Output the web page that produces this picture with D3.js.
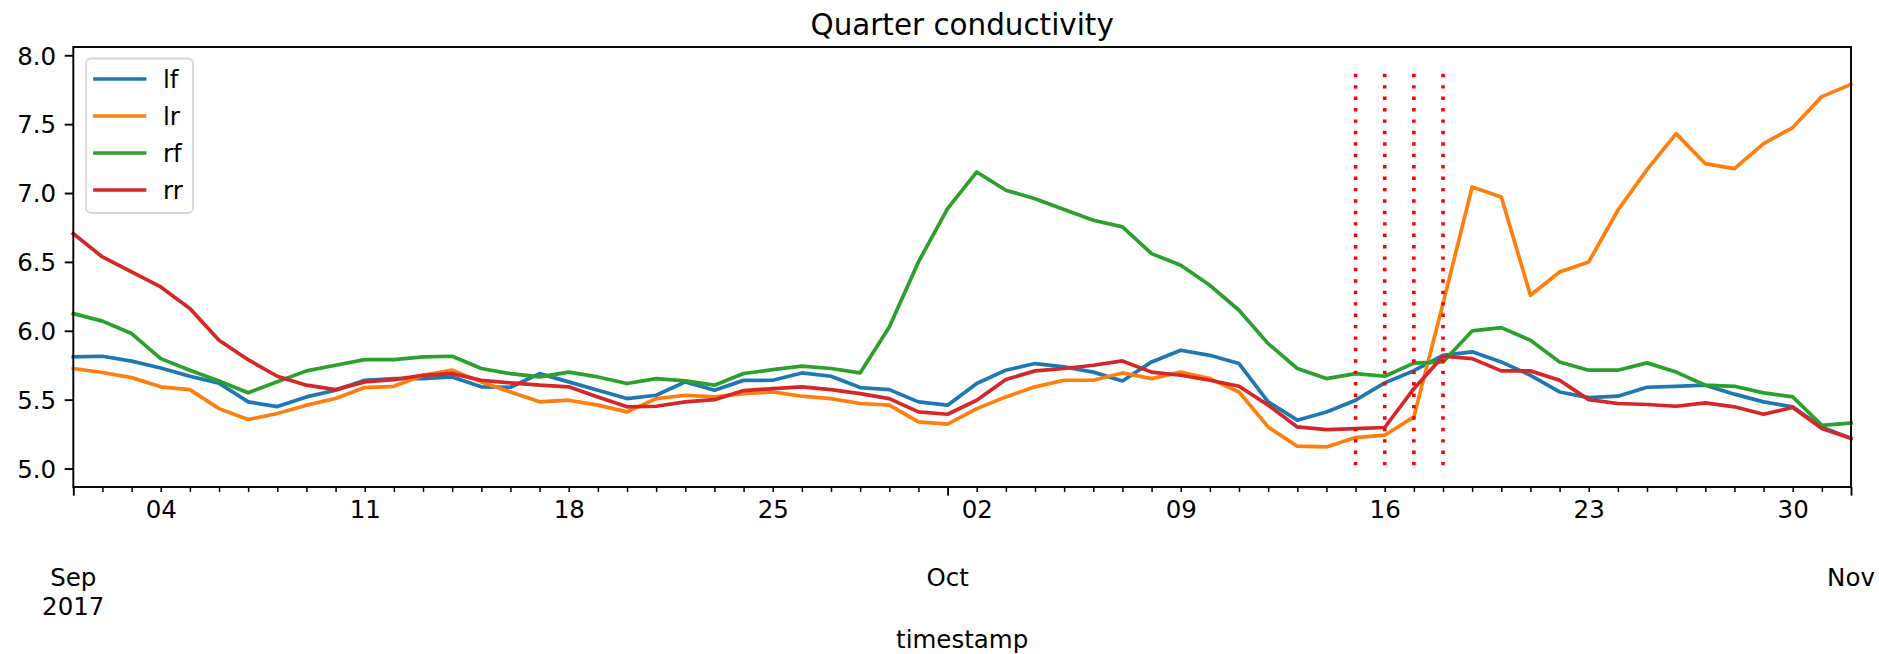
<!DOCTYPE html>
<html>
<head>
<meta charset="utf-8">
<script src="https://cdn.jsdelivr.net/npm/d3@7"></script>
<style>
  html, body { margin: 0; padding: 0; background: #fff; }
  svg { display: block; font-family: "DejaVu Sans", sans-serif; }
</style>
</head>
<body>
<svg id="chart" width="1879" height="654"></svg>
<script>
// ---- data ----
const startDate = "2017-09-01";
const endDate = "2017-11-01";
const seriesNames = ["lf", "lr", "rf", "rr"];
const seriesColors = ["#1f77b4", "#ff7f0e", "#2ca02c", "#d62728"];

const lf = [5.81, 5.815, 5.78, 5.73, 5.67, 5.62, 5.484, 5.45, 5.52, 5.568,
  5.641, 5.653, 5.653, 5.665, 5.593, 5.59, 5.689, 5.629, 5.568, 5.508,
  5.532, 5.629, 5.568, 5.64, 5.641, 5.694, 5.67, 5.588, 5.573, 5.484,
  5.46, 5.617, 5.714, 5.762, 5.738, 5.70, 5.636, 5.774, 5.859, 5.822,
  5.762, 5.484, 5.351, 5.411, 5.496, 5.622, 5.71, 5.822, 5.847, 5.774,
  5.677, 5.556, 5.515, 5.525, 5.59, 5.597, 5.605, 5.54, 5.484, 5.448,
  5.30, 5.22];
const lr = [5.726, 5.697, 5.66, 5.593, 5.573, 5.435, 5.356, 5.40, 5.46, 5.508,
  5.588, 5.597, 5.677, 5.714, 5.629, 5.556, 5.484, 5.496, 5.46, 5.411,
  5.508, 5.532, 5.52, 5.544, 5.556, 5.525, 5.508, 5.472, 5.46, 5.339,
  5.322, 5.435, 5.52, 5.593, 5.641, 5.641, 5.694, 5.653, 5.70, 5.653,
  5.556, 5.302, 5.162, 5.157, 5.225, 5.242, 5.375, 6.197, 7.044, 6.971,
  6.258, 6.427, 6.50, 6.875, 7.17, 7.431, 7.213, 7.177, 7.358, 7.475,
  7.70, 7.789];
const rf = [6.125, 6.07, 5.98, 5.798, 5.714, 5.636, 5.55, 5.63, 5.709, 5.75,
  5.791, 5.791, 5.81, 5.815, 5.726, 5.689, 5.665, 5.70, 5.665, 5.617,
  5.653, 5.636, 5.605, 5.69, 5.718, 5.743, 5.726, 5.694, 6.028, 6.50,
  6.887, 7.153, 7.02, 6.959, 6.88, 6.802, 6.754, 6.56, 6.476, 6.33,
  6.149, 5.907, 5.726, 5.653, 5.689, 5.67, 5.765, 5.774, 5.999, 6.023,
  5.931, 5.774, 5.714, 5.714, 5.767, 5.70, 5.605, 5.597, 5.549, 5.52,
  5.314, 5.331];
const rr = [6.705, 6.536, 6.427, 6.318, 6.161, 5.931, 5.79, 5.67, 5.605, 5.573,
  5.629, 5.646, 5.677, 5.689, 5.641, 5.622, 5.605, 5.593, 5.52, 5.448,
  5.452, 5.484, 5.50, 5.566, 5.58, 5.593, 5.573, 5.544, 5.508, 5.411,
  5.394, 5.496, 5.646, 5.709, 5.726, 5.75, 5.781, 5.70, 5.677, 5.641,
  5.597, 5.46, 5.302, 5.283, 5.29, 5.298, 5.58, 5.815, 5.798, 5.709,
  5.709, 5.641, 5.50, 5.472, 5.465, 5.452, 5.477, 5.448, 5.394, 5.443,
  5.29, 5.218];

const markerDates = ["2017-10-15", "2017-10-16", "2017-10-17", "2017-10-18"];
const markerRange = [5.024, 7.866];

const yTicks = [5.0, 5.5, 6.0, 6.5, 7.0, 7.5, 8.0];
const minorLabelDates = ["2017-09-04", "2017-09-11", "2017-09-18", "2017-09-25",
  "2017-10-02", "2017-10-09", "2017-10-16", "2017-10-23", "2017-10-30"];
const minorLabels = ["04", "11", "18", "25", "02", "09", "16", "23", "30"];
const majorDates = ["2017-09-01", "2017-10-01", "2017-11-01"];
const majorLabels = [["Sep", "2017"], ["Oct"], ["Nov"]];

const title = "Quarter conductivity";
const xLabel = "timestamp";

// ---- layout ----
const parse = d3.utcParse("%Y-%m-%d");
const dates = d3.utcDay.range(parse(startDate), d3.utcDay.offset(parse(endDate), 1));
const L = 73.3, R = 1851, T = 47, B = 487;
const fs = 24.5;

const svg = d3.select("#chart");
svg.append("rect").attr("width", 1879).attr("height", 654).attr("fill", "#fff");

const x = d3.scaleUtc().domain([dates[0], dates[dates.length - 1]]).range([L, R]);
const y = d3.scaleLinear().domain([4.866, 8.06]).range([B, T]);

// y axis
const yAxis = svg.append("g").attr("transform", `translate(${L},0)`)
  .call(d3.axisLeft(y).tickValues(yTicks).tickFormat(d3.format(".1f"))
    .tickSize(8.6).tickPadding(8.6));
yAxis.select(".domain").remove();
yAxis.selectAll("line").attr("stroke", "#000").attr("stroke-width", 1.9);
yAxis.selectAll("text").attr("font-size", fs).attr("fill", "#000")
  .attr("font-family", "DejaVu Sans").attr("dy", "0.36em");

// x minor axis (daily ticks)
const minorMap = new Map(minorLabelDates.map((d, i) => [+parse(d), minorLabels[i]]));
const majorSet = new Set(majorDates.map(d => +parse(d)));
const minorVals = dates.filter(d => !majorSet.has(+d));
const xMinor = svg.append("g").attr("transform", `translate(0,${B})`)
  .call(d3.axisBottom(x).tickValues(minorVals).tickSize(4.9).tickPadding(8.3)
    .tickFormat(d => minorMap.get(+d) || ""));
xMinor.select(".domain").remove();
xMinor.selectAll("line").attr("stroke", "#000").attr("stroke-width", 1.5);
xMinor.selectAll("text").attr("font-size", fs).attr("fill", "#000")
  .attr("font-family", "DejaVu Sans");

// x major axis
const xMajor = svg.append("g").attr("transform", `translate(0,${B})`)
  .call(d3.axisBottom(x).tickValues(majorDates.map(parse)).tickSize(8.6).tickFormat(""));
xMajor.select(".domain").remove();
xMajor.selectAll("line").attr("stroke", "#000").attr("stroke-width", 1.9);
majorDates.forEach((d, i) => {
  const t = svg.append("text").attr("x", x(parse(d))).attr("text-anchor", "middle")
    .attr("font-size", fs).attr("fill", "#000");
  majorLabels[i].forEach((s, j) => {
    t.append("tspan").attr("x", x(parse(d))).attr("y", 586 + j * 29).text(s);
  });
});

// series lines
const allSeries = [lf, lr, rf, rr];
const line = d3.line().x((d, i) => x(dates[i])).y(d => y(d));
allSeries.forEach((s, k) => {
  svg.append("path").datum(s).attr("d", line).attr("fill", "none")
    .attr("stroke", seriesColors[k]).attr("stroke-width", 3.7)
    .attr("stroke-linejoin", "round").attr("stroke-linecap", "square");
});

// vertical dotted markers (drawn top to bottom so the dots start at the top)
markerDates.forEach(d => {
  svg.append("line").attr("x1", x(parse(d))).attr("x2", x(parse(d)))
    .attr("y1", y(markerRange[1])).attr("y2", y(markerRange[0]))
    .attr("stroke", "#ff0000").attr("stroke-width", 3.6)
    .attr("stroke-dasharray", "3.4,8.02");
});

// frame
svg.append("rect").attr("x", L).attr("y", T).attr("width", R - L).attr("height", B - T)
  .attr("fill", "none").attr("stroke", "#000").attr("stroke-width", 1.9);

// legend
const lg = svg.append("g");
lg.append("rect").attr("x", 86).attr("y", 58.5).attr("width", 107).attr("height", 154.5)
  .attr("rx", 5).attr("fill", "#fff").attr("fill-opacity", 0.8)
  .attr("stroke", "#d6d6d6").attr("stroke-width", 1.8);
seriesNames.forEach((n, k) => {
  const cy = 79 + k * 37;
  lg.append("line").attr("x1", 95).attr("x2", 144.5).attr("y1", cy).attr("y2", cy)
    .attr("stroke", seriesColors[k]).attr("stroke-width", 3.7).attr("stroke-linecap", "square");
  lg.append("text").attr("x", 163).attr("y", cy).attr("dy", "0.36em")
    .attr("font-size", fs).attr("fill", "#000").text(n);
});

// title & axis label
svg.append("text").attr("x", (L + R) / 2).attr("y", 35).attr("text-anchor", "middle")
  .attr("font-size", 29.4).attr("fill", "#000").text(title);
svg.append("text").attr("x", (L + R) / 2).attr("y", 648).attr("text-anchor", "middle")
  .attr("font-size", fs).attr("fill", "#000").text(xLabel);
</script>
</body>
</html>
